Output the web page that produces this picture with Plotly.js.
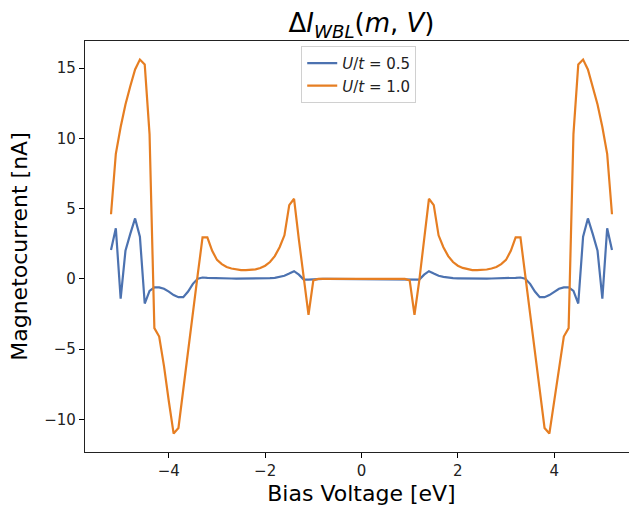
<!DOCTYPE html>
<html>
<head>
<meta charset="utf-8">
<script src="https://cdn.plot.ly/plotly-3.0.1.min.js"></script>
<style>
html, body { margin: 0; padding: 0; overflow: hidden; background: #fff; }
#plot { width: 640px; height: 506px; }
</style>
</head>
<body>
<div id="plot"></div>
<script>
const biasVoltage = [
  -5.2, -5.1, -5.0, -4.9, -4.8, -4.7, -4.6, -4.5, -4.4, -4.3, -4.2, -4.1, -4.0, -3.9, -3.8, -3.7, -3.6, -3.5, -3.4, -3.3, -3.2,
  -3.1, -3.0, -2.9, -2.8, -2.7, -2.6, -2.5, -2.4, -2.3, -2.2, -2.1, -2.0, -1.9, -1.8, -1.7, -1.6, -1.5, -1.4, -1.3, -1.2, -1.1, -1.0,
  -0.9, -0.8, -0.7, -0.6, -0.5, -0.4, -0.3, -0.2, -0.1, 0.0, 0.1, 0.2, 0.3, 0.4, 0.5, 0.6, 0.7, 0.8, 0.9,
  1.0, 1.1, 1.2, 1.3, 1.4, 1.5, 1.6, 1.7, 1.8, 1.9, 2.0, 2.1, 2.2, 2.3, 2.4, 2.5, 2.6, 2.7, 2.8, 2.9, 3.0,
  3.1, 3.2, 3.3, 3.4, 3.5, 3.6, 3.7, 3.8, 3.9, 4.0, 4.1, 4.2, 4.3, 4.4, 4.5, 4.6, 4.7, 4.8, 4.9, 5.0, 5.1, 5.2
];

const currentU05 = [
  2.05, 3.6, -1.4, 2.0, 3.2, 4.3, 3.0, -1.75, -0.85, -0.6, -0.6, -0.7, -0.9, -1.15, -1.3, -1.3, -0.9, -0.35, 0.02, 0.1, 0.08,
  0.06, 0.05, 0.04, 0.03, 0.03, 0.02, 0.02, 0.02, 0.02, 0.02, 0.03, 0.04, 0.05, 0.08, 0.14, 0.22, 0.38, 0.55, 0.3, -0.05, -0.05, -0.02,
  0, 0, 0, 0, 0, 0, 0, 0, 0, 0, 0, 0, 0, 0, 0, 0, 0, 0, 0,
  -0.02, -0.05, -0.05, 0.3, 0.55, 0.38, 0.22, 0.14, 0.08, 0.05, 0.04, 0.03, 0.02, 0.02, 0.02, 0.02, 0.02, 0.03, 0.03, 0.04, 0.05,
  0.06, 0.08, 0.1, 0.02, -0.35, -0.9, -1.3, -1.3, -1.15, -0.9, -0.7, -0.6, -0.6, -0.85, -1.75, 3.0, 4.3, 3.2, 2.0, -1.4, 3.6, 2.05
];

const currentU10 = [
  4.6, 8.9, 10.8, 12.4, 13.7, 14.9, 15.6, 15.25, 10.3, -3.5, -4.1, -6.2, -8.7, -11.0, -10.6, -7.8, -5.2, -2.4, 0.3, 2.95, 2.95,
  2.0, 1.35, 1.05, 0.85, 0.74, 0.67, 0.63, 0.62, 0.63, 0.68, 0.78, 0.94, 1.2, 1.62, 2.25, 3.1, 5.25, 5.7, 2.8, -0.1, -2.55, -0.1,
  0, 0, 0, 0, 0, 0, 0, 0, 0, 0, 0, 0, 0, 0, 0, 0, 0, 0, 0,
  -0.1, -2.55, -0.1, 2.8, 5.7, 5.25, 3.1, 2.25, 1.62, 1.2, 0.94, 0.78, 0.68, 0.63, 0.62, 0.63, 0.67, 0.74, 0.85, 1.05, 1.35,
  2.0, 2.95, 2.95, 0.3, -2.4, -5.2, -7.8, -10.6, -11.0, -8.7, -6.2, -4.1, -3.5, 10.3, 15.25, 15.6, 14.9, 13.7, 12.4, 10.8, 8.9, 4.6
];

const seriesNames = ['<i>U</i>/<i>t</i> = 0.5', '<i>U</i>/<i>t</i> = 1.0'];
const xTicks = [-4, -2, 0, 2, 4];
const yTicks = [-10, -5, 0, 5, 10, 15];

const font = 'DejaVu Sans, sans-serif';

const traces = [
  { x: biasVoltage, y: currentU05, name: seriesNames[0], type: 'scatter', mode: 'lines',
    line: { color: '#4C72B0', width: 2.2 } },
  { x: biasVoltage, y: currentU10, name: seriesNames[1], type: 'scatter', mode: 'lines',
    line: { color: '#E67E22', width: 2.2 } }
];

const layout = {
  width: 640, height: 506,
  margin: { l: 85, r: 2, t: 41, b: 54 },
  paper_bgcolor: '#fff', plot_bgcolor: '#fff',
  font: { family: font, color: '#000', size: 15 },
  showlegend: true,
  title: {
    text: 'Δ<i>I</i><sub><i>WBL</i></sub>(<i>m</i>, <i>V</i>)',
    font: { family: font, size: 26, color: '#000' },
    x: 0.5, xref: 'paper', xanchor: 'center',
    y: 1 - 23 / 506, yref: 'container', yanchor: 'middle'
  },
  xaxis: {
    range: [-5.74, 5.74],
    tickvals: xTicks,
    ticks: 'outside', ticklen: 5, tickwidth: 1, tickcolor: '#000',
    showline: true, linecolor: '#222', linewidth: 1.1, mirror: true,
    showgrid: false, zeroline: false,
    tickfont: { family: font, size: 15, color: '#222' },
    title: { text: 'Bias Voltage [eV]', font: { family: font, size: 22, color: '#000' }, standoff: 9 }
  },
  yaxis: {
    range: [-12.31, 16.92],
    tickvals: yTicks,
    ticks: 'outside', ticklen: 5, tickwidth: 1, tickcolor: '#000',
    showline: true, linecolor: '#222', linewidth: 1.1, mirror: true,
    showgrid: false, zeroline: false,
    tickfont: { family: font, size: 15, color: '#222' },
    title: { text: 'Magnetocurrent [nA]', font: { family: font, size: 22, color: '#000' }, standoff: 10 }
  },
  legend: {
    x: 0.391, xanchor: 'left', y: 0.988, yanchor: 'top',
    bgcolor: 'rgba(255,255,255,0.8)', bordercolor: '#d0d0d0', borderwidth: 1,
    font: { family: font, size: 15, color: '#222' },
    tracegroupgap: 0
  }
};

Plotly.newPlot('plot', traces, layout, { displayModeBar: false, staticPlot: true });
</script>
</body>
</html>
